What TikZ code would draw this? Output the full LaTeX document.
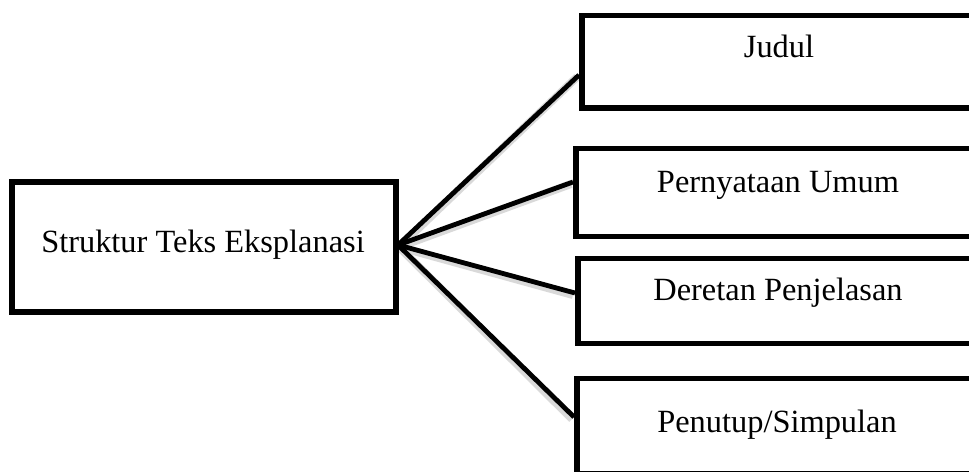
\documentclass[tikz,border=0pt]{standalone}
\usepackage{fontspec}
\setmainfont{Liberation Serif}
\begin{document}
\begin{tikzpicture}[x=0.75pt,y=-0.75pt,
  boxline/.style={draw=black,line width=3.8pt},
  conn/.style={draw=black,line width=3.6pt},
  shadowline/.style={draw=black!15,line width=6pt},
  lbl/.style={font=\fontsize{24.3}{29}\selectfont,inner sep=0pt,anchor=base}]
\useasboundingbox (0,0) rectangle (969,471);
\clip (0,0) rectangle (969,471);
% anchor coordinates
\coordinate (hub) at (398,245);
\coordinate (j) at (579,75);
\coordinate (p) at (573,182);
\coordinate (d) at (575,293);
\coordinate (s) at (574,417);
% shadows
\foreach \t in {j,p,d,s} \draw[shadowline] ([shift={(1,2)}]hub) -- ([shift={(-2,2)}]\t);
% connectors
\foreach \t in {j,p,d,s} \draw[conn] (hub) -- (\t);
% boxes
\draw[boxline] (12,182) rectangle (396,312);
\draw[boxline] (582,15.5) rectangle (990,108);
\draw[boxline] (576,148.5) rectangle (990,236.5);
\draw[boxline] (578,258.5) rectangle (990,343.5);
\draw[boxline] (577,378.5) rectangle (990,474);
% texts
\node[lbl] (main) at (203,252) {Struktur Teks Eksplanasi};
\node[lbl] (judul) at (779,57) {Judul};
\node[lbl] (pu) at (778,192) {Pernyataan Umum};
\node[lbl] (dp) at (778,300) {Deretan Penjelasan};
\node[lbl] (ps) at (777,432) {Penutup/Simpulan};
\end{tikzpicture}
\end{document}
